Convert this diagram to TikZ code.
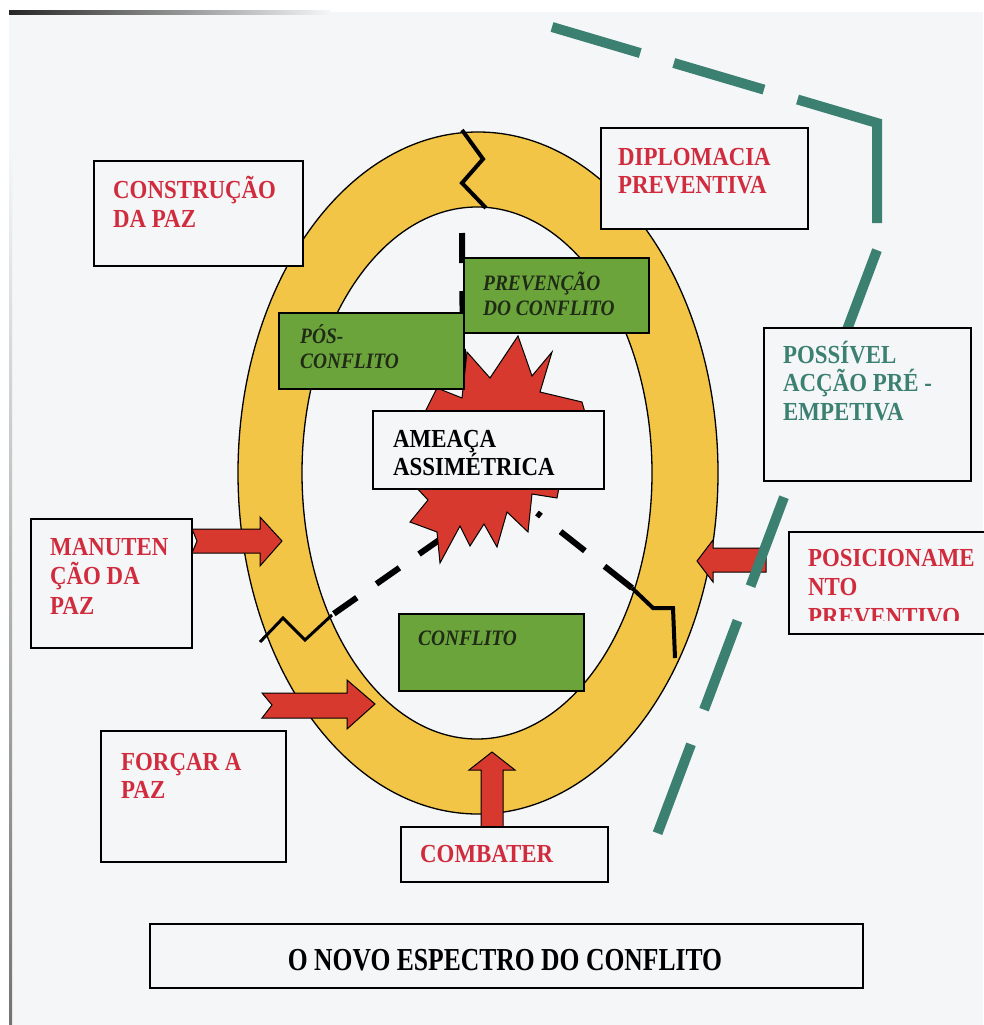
\documentclass[tikz,border=0pt]{standalone}
\usepackage{fontspec}
\setmainfont{Liberation Serif}[FakeStretch=0.88]
\newfontfamily\titulofonte{Liberation Serif}[FakeStretch=0.8]

\definecolor{pagebg}{HTML}{F5F6F8}
\definecolor{anel}{HTML}{F2C547}
\definecolor{vermelho}{HTML}{D7392E}
\definecolor{verde}{HTML}{6CA43C}
\definecolor{textoverde}{HTML}{1F2B17}
\definecolor{petroleo}{HTML}{3B8071}
\definecolor{textovermelho}{HTML}{D02C3E}

\tikzset{
  caixa/.style={draw=black, line width=1.5pt, fill=pagebg, anchor=north west, inner sep=0pt},
  caixaverde/.style={caixa, fill=verde},
  rotulo/.style={anchor=base west, align=left, inner sep=0pt, font=\bfseries\fontsize{26}{29}\selectfont},
  rotuloverde/.style={anchor=base west, align=left, inner sep=0pt, text=textoverde, font=\bfseries\itshape\fontsize{22}{25}\selectfont},
  seta/.style={fill=vermelho, draw=black, line width=1pt, line join=miter}
}

\begin{document}
\begin{tikzpicture}[x=1pt, y=-1pt]
   \useasboundingbox (0,0) rectangle (983,1025);
   % folha digitalizada
   \fill[white] (0,0) rectangle (983,1025);
   \fill[pagebg] (9,12) rectangle (983,1025);
   \fill[left color=black!85, right color=pagebg] (9,11) rectangle (330,15);
   \fill[top color=pagebg, bottom color=black!55] (9,150) rectangle (12,1025);

   % anel amarelo
   \fill[anel, even odd rule] (478,473) ellipse [x radius=240pt, y radius=341pt]
                              (477,473) ellipse [x radius=175pt, y radius=266pt];
   \draw[line width=1.3pt] (478,473) ellipse [x radius=240pt, y radius=341pt];
   \draw[line width=1.3pt] (477,473) ellipse [x radius=175pt, y radius=266pt];

   % divisorias
   \draw[line width=4pt] (462,130) -- (483,159) -- (462,183) -- (486,208);
   \draw[line width=6pt, dash pattern=on 30pt off 28pt] (462,233) -- (463,380);
   \draw[line width=6pt, dash pattern=on 28pt off 24pt] (442,538) -- (332,615);
   \draw[line width=3pt] (332,615) -- (305,640) -- (283,618) -- (260,642);
   \draw[line width=6pt, dash pattern=on 5pt off 25pt on 31pt off 25pt on 40pt off 100pt] (537,513) -- (632,588);
   \draw[line width=4pt] (632,588) -- (653,608) -- (673,608) -- (675,658);

   % explosao
   \draw[seta] (518,336) -- (532,376) -- (552,352) -- (540,392) -- (582,402) -- (590,430)
      -- (600,470) -- (560,482) -- (557,498) -- (532,494) -- (528,532) -- (507,512)
      -- (497,547) -- (484,524) -- (470,546) -- (460,526) -- (440,563) -- (437,532)
      -- (410,522) -- (428,500) -- (400,470) -- (420,440) -- (425,412) -- (437,388)
      -- (462,398) -- (467,352) -- (490,378) -- cycle;

   % caixas verdes
   \node[caixaverde, minimum width=185pt, minimum height=75pt] (prevencao) at (463,257) {};
   \node[rotuloverde] (prevencaotxt) at (483,315) {PREVENÇÃO\\DO CONFLITO};
   \node[caixaverde, minimum width=185pt, minimum height=76pt] (pos) at (278,312) {};
   \node[rotuloverde] (postxt) at (300,368) {PÓS-\\CONFLITO};
   \node[caixaverde, minimum width=185pt, minimum height=77pt] (conflito) at (398,613) {};
   \node[rotuloverde] (conflitotxt) at (418,645) {CONFLITO};

   \node[caixa, minimum width=231pt, minimum height=78pt] (ameaca) at (372,410) {};
   \node[rotulo, text=black, font=\bfseries\fontsize{26}{28}\selectfont] (ameacatxt) at (393,475) {AMEAÇA\\ASSIMÉTRICA};

   % setas
   \draw[seta] (192,529) -- (260,529) -- (260,517) -- (282,541) -- (260,566) -- (260,553) -- (192,553) -- (197,541) -- cycle;
   \draw[seta] (262,693) -- (347,693) -- (347,680) -- (375,704) -- (347,729) -- (347,718) -- (262,718) -- (272,705) -- cycle;
   \draw[seta] (481,827) -- (481,770) -- (469,770) -- (492,752) -- (515,770) -- (503,770) -- (503,827) -- cycle;
   \draw[seta] (766,548) -- (713,548) -- (713,540) -- (697,561) -- (713,582) -- (713,572) -- (766,572) -- cycle;

   % linha tracejada
   \draw[petroleo, line width=10pt, dash pattern=on 92pt off 35pt on 94pt off 35pt on 183pt off 27pt
         on 95pt off 37pt on 95pt off 37pt on 95pt off 37pt on 95pt off 37pt on 95pt off 37pt]
         (552,27) -- (877,123) -- (877,250) -- (655,840);

   % caixas brancas
   \node[caixa, minimum width=209pt, minimum height=105pt] (construcao) at (93,160) {};
   \node[rotulo, text=textovermelho] (construcaotxt) at (113,227) {CONSTRUÇÃO\\DA PAZ};
   \node[caixa, minimum width=207pt, minimum height=101pt] (diplomacia) at (600,127) {};
   \node[rotulo, text=textovermelho, font=\bfseries\fontsize{26}{28}\selectfont] (diplomaciatxt) at (618,193) {DIPLOMACIA\\PREVENTIVA};
   \node[caixa, minimum width=207pt, minimum height=153pt] (possivel) at (763,327) {};
   \node[rotulo, text=petroleo, font=\bfseries\fontsize{26}{28.5}\selectfont] (possiveltxt) at (783,420) {POSSÍVEL\\ACÇÃO PRÉ -\\EMPETIVA};
   \node[caixa, minimum width=161pt, minimum height=129pt] (manutencao) at (30,518) {};
   \node[rotulo, text=textovermelho, font=\bfseries\fontsize{26}{29.5}\selectfont] (manutencaotxt) at (50,614) {MANUTEN\\ÇÃO DA\\PAZ};
   \node[caixa, minimum width=207pt, minimum height=102pt] (posicionamento) at (788,531) {};
   \begin{scope}
     \clip (789,532) rectangle (983,620);
     \node[rotulo, text=textovermelho, font=\bfseries\fontsize{26}{29.5}\selectfont] (posicionamentotxt) at (808,625) {POSICIONAME\\NTO\\PREVENTIVO};
   \end{scope}
   \node[caixa, minimum width=185pt, minimum height=131pt] (forcar) at (100,730) {};
   \node[rotulo, text=textovermelho, font=\bfseries\fontsize{26}{28}\selectfont] (forcartxt) at (121,798) {FORÇAR A\\PAZ};
   \node[caixa, minimum width=207pt, minimum height=55pt] (combater) at (400,826) {};
   \node[rotulo, text=textovermelho] (combatertxt) at (420,862) {COMBATER};

   \node[caixa, minimum width=713pt, minimum height=64pt] (titulo) at (149,923) {};
   \node[anchor=base, inner sep=0pt, font=\titulofonte\bfseries\fontsize{32}{36}\selectfont] (titulotxt) at (505,970) {O NOVO ESPECTRO DO CONFLITO};
\end{tikzpicture}
\end{document}
